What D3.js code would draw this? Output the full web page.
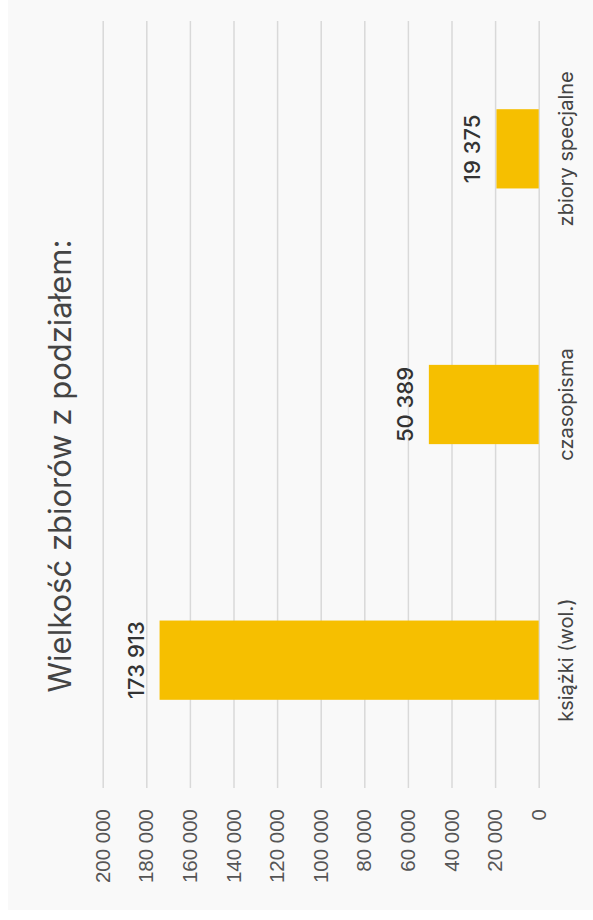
<!DOCTYPE html>
<html>
<head>
<meta charset="utf-8">
<script src="https://cdn.jsdelivr.net/npm/d3@7"></script>
<style>
  body { margin: 0; background: #fff; }
  svg { display: block; font-family: Inter, "Open Sans", sans-serif; }
</style>
</head>
<body>
<svg id="chart" width="593" height="920"></svg>
<script>
// data
var categories = ["książki (wol.)", "czasopisma", "zbiory specjalne"];
var values = [173913, 50389, 19375];
var tickValues = [0, 20000, 40000, 60000, 80000, 100000, 120000, 140000, 160000, 180000, 200000];
var title = "Wielkość zbiorów z podziałem:";

var svg = d3.select("#chart"),
  pageW = +svg.attr("width"),
  pageH = +svg.attr("height");

var pl = d3.formatLocale({ decimal: ",", thousands: " ", grouping: [3], currency: ["", ""] });
var fmt = pl.format(",");

// panel background
svg.append("rect")
  .attr("x", 8).attr("y", 0)
  .attr("width", pageW - 8).attr("height", 910)
  .attr("fill", "#f9f9f9");

// chart is drawn as a normal column chart, then turned 90deg counter-clockwise
var g = svg.append("g")
  .attr("transform", "translate(0," + pageH + ") rotate(-90)");

var x = d3.scaleBand()
  .domain(categories)
  .range([132, 899])
  .paddingInner(0.69)
  .paddingOuter(0.345);

var y = d3.scaleLinear()
  .domain([0, 200000])
  .range([538.7, 102.7]);

var axis = g.append("g")
  .attr("class", "axis axis--y")
  .attr("transform", "translate(132,0)")
  .call(d3.axisLeft(y)
    .tickValues(tickValues)
    .tickFormat(fmt)
    .tickSize(-(899 - 132))
    .tickPadding(21));

axis.select(".domain").remove();
axis.selectAll(".tick line")
  .attr("stroke", "#d9d9d9")
  .attr("stroke-width", 1.5);
axis.selectAll(".tick text")
  .attr("fill", "#555")
  .style("font-size", "20.5px");

g.selectAll(".bar")
  .data(values)
  .enter().append("rect")
  .attr("class", "bar")
  .attr("x", function (d, i) { return x(categories[i]); })
  .attr("y", function (d) { return y(d); })
  .attr("width", x.bandwidth())
  .attr("height", function (d) { return y(0) - y(d); })
  .attr("fill", "#f6bf00");

g.selectAll(".val")
  .data(values)
  .enter().append("text")
  .attr("class", "val")
  .attr("x", function (d, i) { return x(categories[i]) + x.bandwidth() / 2; })
  .attr("y", function (d) { return y(d) - 16; })
  .attr("text-anchor", "middle")
  .attr("fill", "#333")
  .style("font-size", "22px")
  .style("font-weight", 500)
  .text(function (d) { return fmt(d); });

g.selectAll(".cat")
  .data(categories)
  .enter().append("text")
  .attr("class", "cat")
  .attr("x", function (d) { return x(d) + x.bandwidth() / 2; })
  .attr("y", 573)
  .attr("text-anchor", "middle")
  .attr("fill", "#444")
  .style("font-size", "20px")
  .text(function (d) { return d; });

g.append("text")
  .attr("x", 454)
  .attr("y", 71)
  .attr("text-anchor", "middle")
  .attr("fill", "#444")
  .style("font-size", "31px")
  .text(title);
</script>
</body>
</html>
